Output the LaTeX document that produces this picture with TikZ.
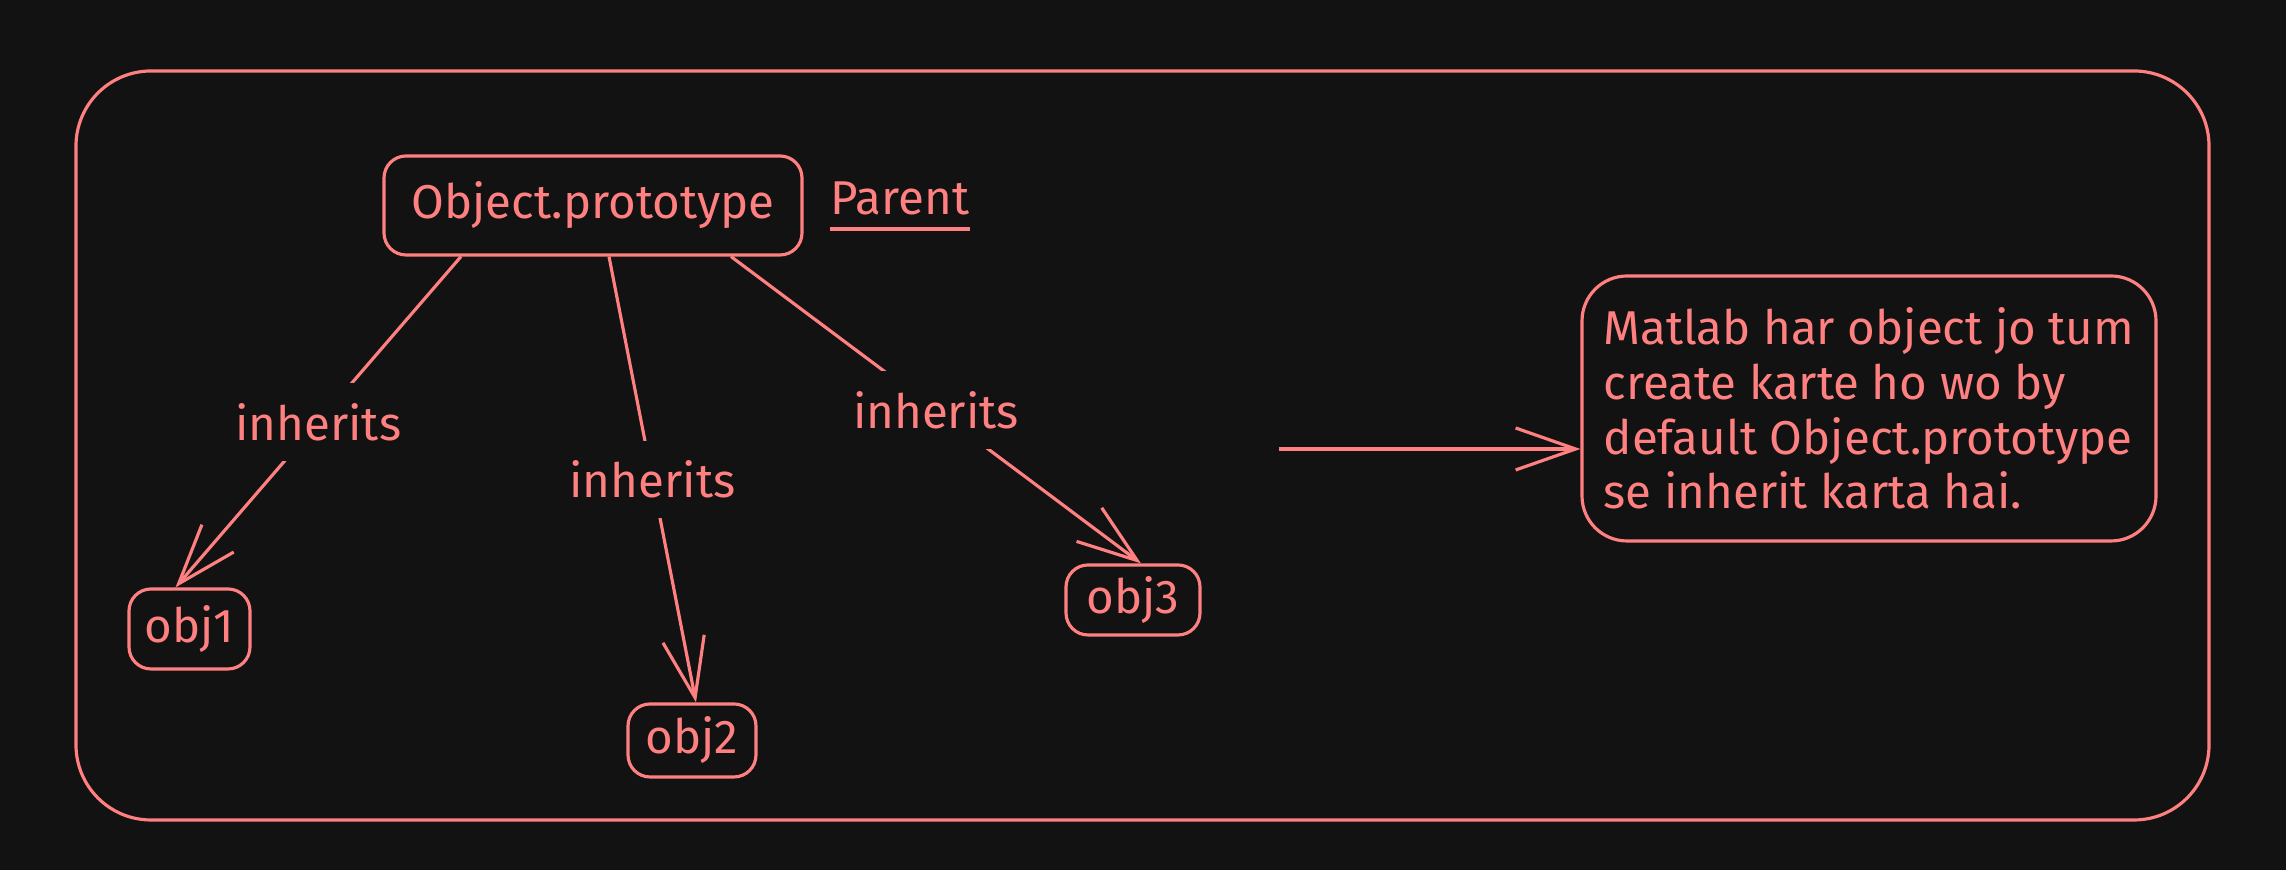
\documentclass[tikz,border=0pt]{standalone}
\usepackage{fontspec}
\setmainfont{Fira Sans}
\usetikzlibrary{arrows.meta}
\definecolor{salmon}{HTML}{FF8080}
\definecolor{bgdark}{HTML}{121212}
\begin{document}
\begin{tikzpicture}[x=1cm, y=1cm,
    every node/.style = {text=salmon, font=\fontsize{13.5}{15.6}\selectfont},
    box/.style = {shape=rectangle, draw=salmon, line width=0.9pt,
      rounded corners=0.22cm, inner sep=0pt},
    lbl/.style = {fill=bgdark, inner sep=0.2cm},
    link/.style = {draw=salmon, line width=0.9pt,
      -{Straight Barb[length=0.6cm,width=0.42cm]}}]
  \useasboundingbox[fill=bgdark] (0,0) rectangle (22.86,8.70);
  \draw[salmon, line width=0.9pt, rounded corners=0.75cm] (0.76,0.50) rectangle (22.09,7.99);
  % parent and children
  \node[box, minimum width=4.18cm, minimum height=0.99cm] (proto) at (5.93,6.645) {Object.prototype};
  \node[anchor=south west, inner xsep=0pt, inner ysep=0.13cm] (parent) at (8.30,6.41) {Parent};
  \draw[salmon, line width=0.9pt] (parent.south west) -- (parent.south east);
  \node[box, minimum width=1.21cm, minimum height=0.80cm] (obj1) at (1.895,2.41) {obj1};
  \node[box, minimum width=1.28cm, minimum height=0.73cm] (obj2) at (6.92,1.295) {obj2};
  \node[box, minimum width=1.34cm, minimum height=0.70cm] (obj3) at (11.33,2.70) {obj3};
  \draw[link] ([xshift=-1.32cm]proto.south) -- node[lbl] {inherits} ([xshift=-0.14cm]obj1.north);
  \draw[link] ([xshift=0.16cm]proto.south) -- node[lbl] {inherits} ([xshift=0.04cm]obj2.north);
  \draw[link] ([xshift=1.38cm]proto.south) -- node[lbl] {inherits} ([xshift=0.08cm]obj3.north);
  % note on the right
  \node[box, rounded corners=0.45cm, minimum width=5.74cm, minimum height=2.65cm, align=left] (note) at (18.69,4.615)
    {Matlab har object jo tum\\ create karte ho wo by\\ default Object.prototype\\ se inherit karta hai.};
  \coordinate (src) at (12.79,4.21);
  \draw[link] (src) -- (src -| note.west);
\end{tikzpicture}
\end{document}
